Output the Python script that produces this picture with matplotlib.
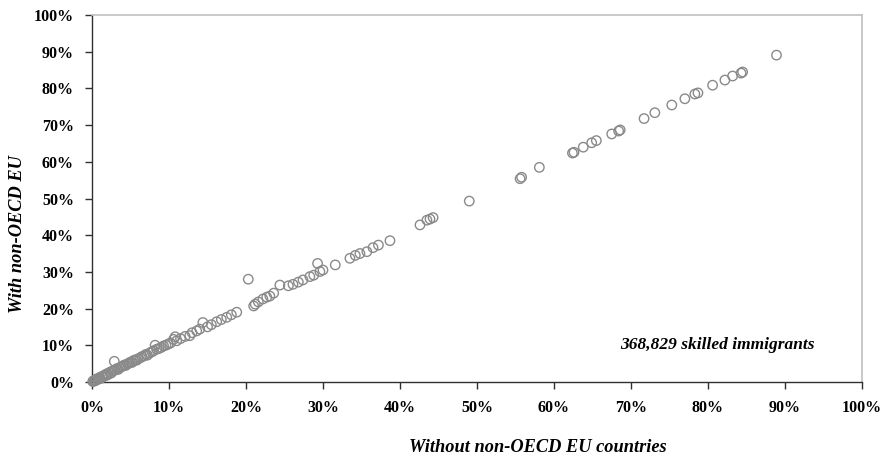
import matplotlib
matplotlib.use('Agg')
import matplotlib.pyplot as plt
from matplotlib.ticker import PercentFormatter

plt.rcParams['font.family'] = ['Liberation Serif', 'DejaVu Serif']

# share of skilled immigrants, in %
without_eu = [0.1, 0.2, 0.3, 0.4, 0.5, 0.6, 0.8, 0.9, 1.0, 1.1, 1.3, 1.4, 1.6, 1.8,
              1.9, 2.1, 2.3, 2.5, 2.6, 2.8, 2.9, 3.0, 3.2, 3.4, 3.6, 3.8, 4.0, 4.2,
              4.4, 4.6, 4.8, 5.0, 5.2, 5.4, 5.6, 5.8, 6.0, 6.3, 6.5, 6.8, 7.0, 7.2,
              7.5, 7.8, 8.0, 8.2, 8.4, 8.7, 9.0, 9.3, 9.6, 9.9, 10.2, 10.6, 10.8,
              11.0, 11.5, 12.1, 12.7, 13.0, 13.6, 14.0, 14.4, 15.0, 15.5, 16.2,
              16.8, 17.5, 18.1, 18.8, 20.3, 21.0, 21.2, 21.6, 22.2, 22.7, 23.1,
              23.6, 24.4, 25.5, 26.1, 26.8, 27.4, 28.3, 28.8, 29.3, 29.6, 30.0,
              31.6, 33.5, 34.2, 34.8, 35.7, 36.5, 37.2, 38.7, 42.6, 43.5, 43.9,
              44.3, 49.0, 55.6, 55.8, 58.1, 62.4, 62.6, 63.8, 64.9, 65.5, 67.5,
              68.4, 68.6, 71.7, 73.1, 75.3, 77.0, 78.3, 78.7, 80.6, 82.2, 83.2,
              84.3, 84.5, 88.9]
with_eu = [0.1, 0.3, 0.2, 0.5, 0.4, 0.8, 0.7, 1.0, 1.2, 0.9, 1.5, 1.3, 1.8, 1.7,
           2.2, 2.0, 2.6, 2.4, 2.9, 3.1, 5.6, 3.2, 3.6, 3.4, 3.9, 4.1, 4.3, 4.6,
           4.5, 4.9, 5.1, 5.4, 5.3, 5.8, 6.0, 5.9, 6.3, 6.6, 6.9, 7.1, 7.5, 7.3,
           7.9, 8.2, 8.5, 10.0, 8.9, 9.1, 9.4, 9.8, 10.0, 10.3, 10.6, 11.6, 12.3,
           11.2, 11.8, 12.4, 12.6, 13.4, 13.9, 14.4, 16.2, 15.0, 15.6, 16.4,
           17.0, 17.6, 18.3, 19.0, 28.0, 20.7, 21.2, 21.8, 22.6, 23.1, 23.4,
           24.2, 26.4, 26.2, 26.6, 27.2, 27.8, 28.7, 29.1, 32.3, 30.1, 30.5,
           31.9, 33.7, 34.5, 35.0, 35.5, 36.6, 37.3, 38.5, 42.8, 44.1, 44.4,
           44.8, 49.3, 55.4, 55.8, 58.5, 62.4, 62.6, 64.0, 65.2, 65.8, 67.6,
           68.4, 68.7, 71.8, 73.4, 75.5, 77.2, 78.5, 78.8, 80.9, 82.3, 83.4,
           84.2, 84.5, 89.1]

ticks = list(range(0, 101, 10))

fig = plt.figure(figsize=(8.81, 4.59), dpi=100)
ax = fig.add_axes([0.1044, 0.168, 0.874, 0.799])

ax.scatter(without_eu, with_eu, s=46, facecolor='none', edgecolor='#8a8a8a',
           linewidth=1.0, zorder=3, clip_on=False)

ax.set_xlim(0, 100)
ax.set_ylim(0, 100)
ax.set_xticks(ticks)
ax.set_yticks(ticks)
ax.xaxis.set_major_formatter(PercentFormatter(decimals=0))
ax.yaxis.set_major_formatter(PercentFormatter(decimals=0))

for side in ['left', 'bottom']:
    ax.spines[side].set_color('#303030')
    ax.spines[side].set_linewidth(1.0)
for side in ['top', 'right']:
    ax.spines[side].set_color('#c0c0c0')
    ax.spines[side].set_linewidth(1.2)

ax.tick_params(axis='both', direction='out', length=5, width=1.0,
               color='#303030', labelsize=11.5, pad=8)
for lab in ax.get_xticklabels() + ax.get_yticklabels():
    lab.set_fontweight('bold')

fig.text(0.611, 0.026, 'Without non-OECD EU countries', ha='center', va='center',
         fontsize=13.2, fontweight='bold', style='italic')
fig.text(0.02, 0.49, 'With non-OECD EU', ha='center', va='center', rotation=90,
         fontsize=13.2, fontweight='bold', style='italic')
ax.text(93.9, 10.1, '368,829 skilled immigrants', ha='right', va='center',
        fontsize=12.5, fontweight='bold', style='italic')

plt.savefig('out.png', dpi=100)
